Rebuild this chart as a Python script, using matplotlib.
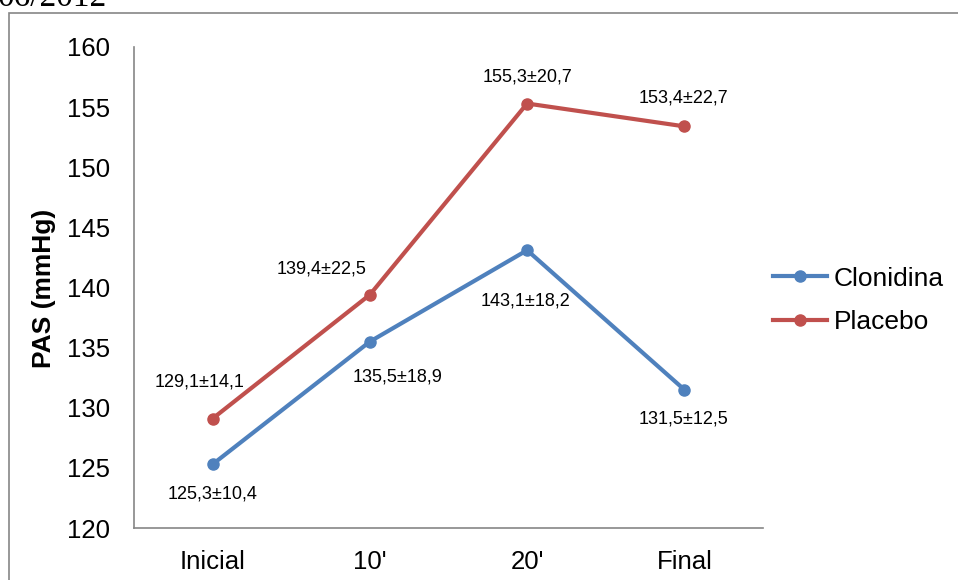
import matplotlib
matplotlib.use("Agg")
import matplotlib.pyplot as plt
from matplotlib.patches import Rectangle

plt.rcParams['font.family'] = ['Liberation Sans', 'DejaVu Sans']

# PAS por momento de medida
momentos = ["Inicial", "10'", "20'", "Final"]
clonidina = [125.3, 135.5, 143.1, 131.5]
clonidina_dp = [10.4, 18.9, 18.2, 12.5]
placebo = [129.1, 139.4, 155.3, 153.4]
placebo_dp = [14.1, 22.5, 20.7, 22.7]

# deslocamento das etiquetas (pixels)
off_clon = [(0, -30), (28, -35), (-2, -51), (-1, -29)]
off_plac = [(-13, 37), (-48, 26), (0, 27), (-1, 28)]

azul = '#4F81BD'
vermelho = '#C0504D'
cinza = '#868686'

W, H = 958, 580
fig = plt.figure(figsize=(W / 100, H / 100), dpi=100)
ax = fig.add_axes([134 / W, 1 - 528 / H, 629 / W, 481 / H])

x = list(range(len(momentos)))
ax.plot(x, clonidina, color=azul, lw=3, marker='o', ms=8, label='Clonidina')
ax.plot(x, placebo, color=vermelho, lw=3, marker='o', ms=8, label='Placebo')


def fmt(v, dp):
    return (f"{v:.1f}±{dp:.1f}").replace('.', ',')


for xi, v, dp, off in zip(x, clonidina, clonidina_dp, off_clon):
    ax.annotate(fmt(v, dp), (xi, v), xytext=off, textcoords='offset pixels',
                ha='center', va='center', fontsize=13)
for xi, v, dp, off in zip(x, placebo, placebo_dp, off_plac):
    ax.annotate(fmt(v, dp), (xi, v), xytext=off, textcoords='offset pixels',
                ha='center', va='center', fontsize=13)

ax.set_xlim(-0.5, 3.5)
ax.set_ylim(120, 160)
ax.set_yticks(range(120, 161, 5))
ax.set_xticks(x)
ax.set_xticklabels(momentos)
ax.tick_params(axis='both', length=0, labelsize=18.5, pad=17)
ax.tick_params(axis='x', pad=16)

for s in ['top', 'right']:
    ax.spines[s].set_visible(False)
for s in ['left', 'bottom']:
    ax.spines[s].set_color(cinza)
    ax.spines[s].set_linewidth(1.2)

ax.set_ylabel('PAS (mmHg)', fontsize=19, fontweight='bold')
ax.yaxis.set_label_coords(56 / W, 1 - 288 / H, transform=fig.transFigure)

fig.legend(loc='center left', bbox_to_anchor=(773 / W, 1 - 300.5 / H),
           frameon=False, fontsize=19, handlelength=2.05, handletextpad=0.25,
           labelspacing=0.75, borderpad=0, borderaxespad=0)

# moldura do gráfico
fig.patches.append(Rectangle((9 / W, -0.1), 1.2, 1 - 13 / H + 0.1,
                             transform=fig.transFigure, fill=False,
                             edgecolor=cinza, lw=1.2))
fig.text(-2 / W, 1 - 6 / H, '06/2012', family='Liberation Serif',
         fontsize=24, ha='left', va='baseline')

fig.savefig('out.png', dpi=100)
